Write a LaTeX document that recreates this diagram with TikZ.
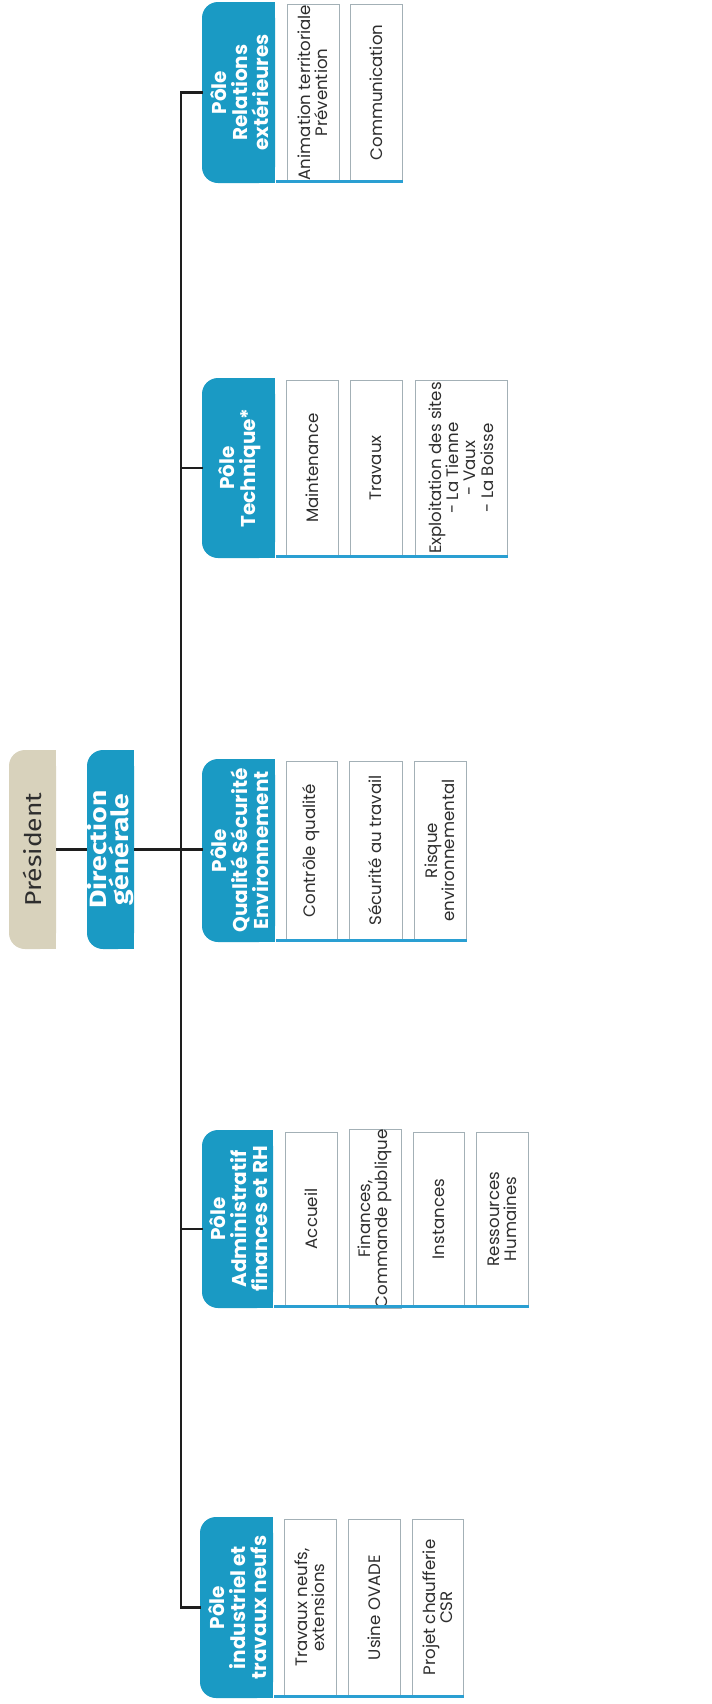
\documentclass[tikz,border=0pt]{standalone}
\usepackage{fontspec}
\setmainfont{Poppins}
\newfontfamily\fira[FakeStretch=1.15]{Fira Sans}
\newfontfamily\firab[FakeStretch=1.2]{Fira Sans}
\definecolor{tealA}{HTML}{1A9AC4}
\definecolor{tealL}{HTML}{2A9FD2}
\definecolor{beigeA}{HTML}{D8D2BC}
\definecolor{subline}{HTML}{A3B0B6}
\definecolor{connc}{HTML}{1E1E1E}
\definecolor{txtc}{HTML}{2E2E2E}
\begin{document}
\begin{tikzpicture}[x=0.5pt,y=-0.5pt,
  hdr/.style={rotate=90, align=center, text=white, inner sep=0pt,
    font=\bfseries\fontsize{10}{10.6}\selectfont},
  subbox/.style={rotate=90, draw=subline, line width=0.5pt, fill=white, align=center,
    inner sep=0pt, text=txtc, font=\fontsize{8.3}{8.6}\selectfont},
  conn/.style={draw=connc, line width=1.1pt},
  uline/.style={draw=tealL, line width=1.3pt},
  hfill/.style={fill=tealA, rounded corners=8pt}]
\fill[white] (0,0) rectangle (712,1704);
\useasboundingbox (0,0) rectangle (712,1704);

% ---------- backgrounds of the coloured boxes
\fill[beigeA, rounded corners=8pt] (9,750) rectangle (56,949);
\fill[beigeA] (35,750) rectangle (56,949);
\fill[hfill] (87,750) rectangle (134,949);
\fill[tealA] (112,750) rectangle (134,949);

\fill[hfill] (202,2) rectangle (275,183);     \fill[tealA] (240,2) rectangle (275,183);
\fill[hfill] (202,378) rectangle (275,558);   \fill[tealA] (240,378) rectangle (275,558);
\fill[hfill] (202,759) rectangle (275,942);   \fill[tealA] (240,759) rectangle (275,942);
\fill[hfill] (202,1130) rectangle (273,1308); \fill[tealA] (240,1130) rectangle (273,1308);
\fill[hfill] (200,1517) rectangle (273,1698); \fill[tealA] (240,1517) rectangle (273,1698);

% ---------- top nodes
\node[rotate=90, inner sep=0pt, minimum width=99.5pt, minimum height=23.5pt, text=txtc,
  font=\fira\fontsize{11.5}{12}\selectfont] (pres) at (32.5,849.5) {Président};
\node[rotate=90, inner sep=0pt, minimum width=99.5pt, minimum height=23.5pt, text=white, align=center,
  font=\firab\bfseries\fontsize{11.8}{11.2}\selectfont] (dg) at (110.5,849.5) {Direction\\générale};

% ---------- headers
\node[hdr, minimum width=90.5pt, minimum height=36.5pt] (relh) at (239.5,92.5) {Pôle\\Relations\\extérieures};
\node[hdr, minimum width=90pt, minimum height=36.5pt] (techh) at (239.5,468) {Pôle\\Technique*};
\node[hdr, minimum width=91.5pt, minimum height=36.5pt] (qseh) at (239.5,850.5) {Pôle\\Qualité Sécurité\\Environnement};
\node[hdr, minimum width=89pt, minimum height=35.5pt] (admh) at (238.5,1219) {Pôle\\Administratif\\finances et RH};
\node[hdr, minimum width=90.5pt, minimum height=36.5pt] (indh) at (237.5,1607.5) {Pôle\\industriel et\\travaux neufs};

% ---------- sub boxes: Relations
\node[subbox, minimum width=88.5pt, minimum height=26pt] (r1) at (313,92.5) {Animation territoriale\\Prévention};
\node[subbox, minimum width=88.5pt, minimum height=26pt] (r2) at (376,92.5) {Communication};
\draw[uline] (r2.south west -| relh.south) -- (r2.south west);

% Technique
\node[subbox, minimum width=88pt, minimum height=26pt] (t1) at (312,468) {Maintenance};
\node[subbox, minimum width=88pt, minimum height=26pt] (t2) at (376,468) {Travaux};
\node[subbox, minimum width=88pt, minimum height=46pt] (t3) at (461,468) {Exploitation des sites\\- La Tienne\\- Vaux\\- La Boisse};
\draw[uline] (t3.south west -| techh.south) -- (t3.south west);

% Qualite
\node[subbox, minimum width=89.5pt, minimum height=25.5pt] (q1) at (311.5,850.5) {Contrôle qualité};
\node[subbox, minimum width=89.5pt, minimum height=26.5pt] (q2) at (375.5,850.5) {Sécurité au travail};
\node[subbox, minimum width=89.5pt, minimum height=26pt] (q3) at (440,850.5) {Risque\\environnemental};
\draw[uline] (q3.south west -| qseh.south) -- (q3.south west);

% Administratif
\node[subbox, minimum width=87pt, minimum height=26pt] (a1) at (311,1219) {Accueil};
\node[subbox, minimum width=87pt, minimum height=26pt] (a2) at (375,1219) {Finances,\\Commande publique};
\node[subbox, minimum width=87pt, minimum height=25.5pt] (a3) at (438.5,1219) {Instances};
\node[subbox, minimum width=87pt, minimum height=26pt] (a4) at (502,1219) {Ressources\\Humaines};
\draw[uline] (a4.south west -| admh.south) -- (a4.south west);

% Industriel
\node[subbox, minimum width=88.5pt, minimum height=26pt] (i1) at (310,1607.5) {Travaux neufs,\\extensions};
\node[subbox, minimum width=88.5pt, minimum height=26pt] (i2) at (374,1607.5) {Usine OVADE};
\node[subbox, minimum width=88.5pt, minimum height=25.5pt] (i3) at (437.5,1607.5) {Projet chaufferie\\CSR};
\draw[uline] (i3.south west -| indh.south) -- (i3.south west);

% ---------- connectors
\coordinate (tbot) at (181,1607.5);
\draw[conn] (relh.north) -| (tbot) -- (indh.north);
\draw[conn] (techh.north) -- (techh.north -| tbot);
\draw[conn] (pres.south) -- (dg.north);
\draw[conn] (dg.south) -- (dg.south -| qseh.north);
\path ([yshift=-5pt]admh.north) coordinate (admc);
\draw[conn] (admc) -- (admc -| tbot);
\end{tikzpicture}
\end{document}
